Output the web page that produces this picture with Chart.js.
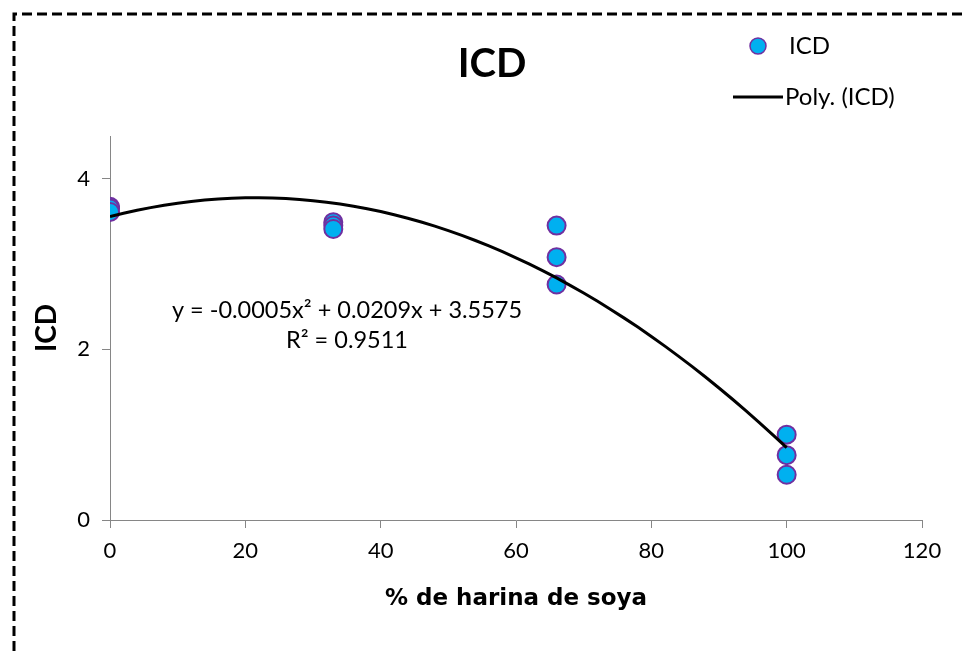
<!DOCTYPE html>
<html>
<head>
<meta charset="utf-8">
<script src="https://cdn.jsdelivr.net/npm/chart.js@4.4.1/dist/chart.umd.min.js"></script>
<style>
  html, body { margin: 0; padding: 0; background: #fff; }
  #wrap { width: 966px; height: 651px; }
</style>
</head>
<body>
<div id="wrap"><canvas id="icdChart" width="966" height="651"></canvas></div>
<script>
// datos
const soyaPct = [0, 0, 0, 33, 33, 33, 66, 66, 66, 100, 100, 100];
const icdValues = [3.67, 3.65, 3.61, 3.49, 3.45, 3.41, 3.45, 3.08, 2.76, 1.00, 0.76, 0.53];
const xTicks = [0, 20, 40, 60, 80, 100, 120];
const yTicks = [0, 2, 4];
const equationLines = ["y = -0.0005x² + 0.0209x + 3.5575", "R² = 0.9511"];

const FONT = "Lato, 'Open Sans', sans-serif";

// tendencia polinómica de grado 2 (mínimos cuadrados, como Excel)
function polyFit2(xs, ys) {
  let s = [0, 0, 0, 0, 0], t = [0, 0, 0];
  xs.forEach((x, i) => {
    for (let k = 0; k < 5; k++) s[k] += Math.pow(x, k);
    for (let k = 0; k < 3; k++) t[k] += ys[i] * Math.pow(x, k);
  });
  const m = [[s[0], s[1], s[2], t[0]], [s[1], s[2], s[3], t[1]], [s[2], s[3], s[4], t[2]]];
  for (let i = 0; i < 3; i++) {
    for (let j = i + 1; j < 3; j++) {
      const f = m[j][i] / m[i][i];
      for (let k = i; k < 4; k++) m[j][k] -= f * m[i][k];
    }
  }
  const c = [0, 0, 0];
  for (let i = 2; i >= 0; i--) {
    let v = m[i][3];
    for (let k = i + 1; k < 3; k++) v -= m[i][k] * c[k];
    c[i] = v / m[i][i];
  }
  return c; // c0 + c1 x + c2 x^2
}

const coef = polyFit2(soyaPct, icdValues);
const trendPoints = [];
for (let x = 0; x <= 100; x += 2) {
  trendPoints.push({ x: x, y: coef[0] + coef[1] * x + coef[2] * x * x });
}

const decorPlugin = {
  id: "decor",
  beforeDraw(chart) {
    const ctx = chart.ctx;
    ctx.save();
    ctx.fillStyle = "#fff";
    ctx.fillRect(0, 0, chart.width, chart.height);
    ctx.restore();
  },
  afterDraw(chart) {
    const ctx = chart.ctx;
    ctx.save();
    // borde punteado
    ctx.strokeStyle = "#000";
    ctx.lineWidth = 3;
    ctx.setLineDash([10, 5]);
    ctx.beginPath();
    ctx.moveTo(14, chart.height);
    ctx.lineTo(14, 14);
    ctx.lineTo(chart.width, 14);
    ctx.stroke();
    ctx.setLineDash([]);

    // título
    ctx.fillStyle = "#000";
    ctx.textAlign = "center";
    ctx.textBaseline = "middle";
    ctx.font = "bold 40px " + FONT;
    ctx.fillText("ICD", 492, 64);

    // leyenda
    ctx.beginPath();
    ctx.arc(758, 46, 8, 0, Math.PI * 2);
    ctx.fillStyle = "#00B0F0";
    ctx.fill();
    ctx.lineWidth = 1.5;
    ctx.strokeStyle = "#7030A0";
    ctx.stroke();
    ctx.strokeStyle = "#000";
    ctx.lineWidth = 3;
    ctx.beginPath();
    ctx.moveTo(733, 97);
    ctx.lineTo(783, 97);
    ctx.stroke();
    ctx.fillStyle = "#000";
    ctx.textAlign = "left";
    ctx.font = "24px " + FONT;
    ctx.fillText("ICD", 789, 46);
    ctx.fillText("Poly. (ICD)", 785, 97);

    // ecuación
    ctx.textAlign = "center";
    ctx.font = "23.5px " + FONT;
    ctx.fillText(equationLines[0], 347, 310);
    ctx.fillText(equationLines[1], 347, 340);
    ctx.restore();
  }
};

new Chart(document.getElementById("icdChart"), {
  type: "scatter",
  data: {
    datasets: [
      {
        label: "Poly. (ICD)",
        type: "line",
        data: trendPoints,
        borderColor: "#000",
        borderWidth: 3,
        pointRadius: 0,
        tension: 0,
        fill: false,
        order: 0
      },
      {
        label: "ICD",
        data: soyaPct.map((x, i) => ({ x: x, y: icdValues[i] })),
        backgroundColor: "#00B0F0",
        borderColor: "#7030A0",
        borderWidth: 2,
        pointRadius: 9,
        order: 1
      }
    ]
  },
  options: {
    responsive: false,
    animation: false,
    layout: { padding: { left: 26, right: 44, top: 136, bottom: 34 } },
    plugins: {
      legend: { display: false },
      title: { display: false },
      tooltip: { enabled: false }
    },
    scales: {
      x: {
        type: "linear",
        min: 0,
        max: 120,
        afterBuildTicks: s => { s.ticks = xTicks.map(v => ({ value: v })); },
        afterFit: s => { s.height = 97; },
        grid: { drawOnChartArea: false, drawTicks: true, tickLength: 8, color: "#868686" },
        border: { color: "#868686", width: 1 },
        ticks: { color: "#000", font: { family: FONT, size: 22 }, padding: 10, maxRotation: 0 },
        title: { display: true, text: "% de harina de soya", color: "#000", font: { family: "'DejaVu Sans', sans-serif", size: 23, weight: "bold" } }
      },
      y: {
        type: "linear",
        min: 0,
        max: 4.5,
        afterBuildTicks: s => { s.ticks = yTicks.map(v => ({ value: v })); },
        afterFit: s => { s.width = 84; },
        grid: { drawOnChartArea: false, drawTicks: true, tickLength: 8, color: "#868686" },
        border: { color: "#868686", width: 1 },
        ticks: { color: "#000", font: { family: FONT, size: 22 }, padding: 12 },
        title: { display: true, text: "ICD", color: "#000", font: { family: FONT, size: 28, weight: "bold" } }
      }
    }
  },
  plugins: [decorPlugin]
});
</script>
</body>
</html>
